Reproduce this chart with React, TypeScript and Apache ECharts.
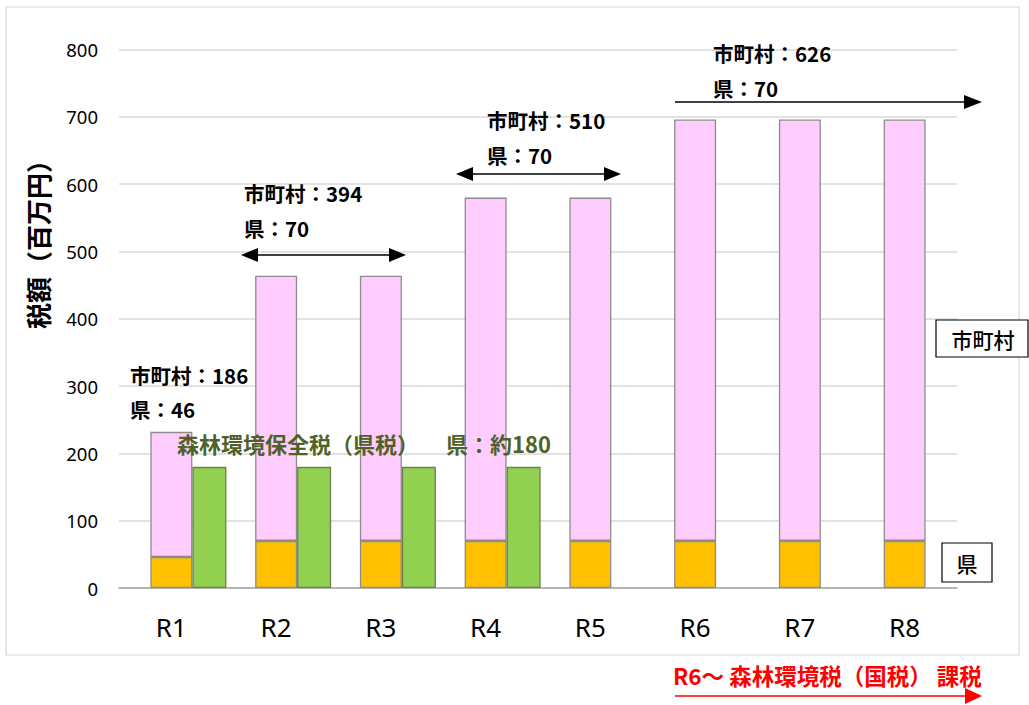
import React, { useEffect, useRef } from "react";
import * as echarts from "echarts";

const categories = ["R1", "R2", "R3", "R4", "R5", "R6", "R7", "R8"];
const prefValues = [46, 70, 70, 70, 70, 70, 70, 70];
const muniValues = [186, 394, 394, 510, 510, 626, 626, 626];
const forestPrefTax = [180, 180, 180, 180, null, null, null, null];
const yTicks = { min: 0, max: 800, interval: 100 };

const JP = "'Noto Sans CJK JP', 'Noto Sans', sans-serif";

function arrowHead(tipX: number, y: number, dir: number, len: number, half: number, color: string) {
  return {
    type: "polygon",
    z: 100,
    shape: { points: [[tipX, y], [tipX - dir * len, y - half], [tipX - dir * len, y + half]] },
    style: { fill: color },
    silent: true,
  };
}

function hLine(x1: number, x2: number, y: number, color: string, w: number) {
  return {
    type: "line",
    z: 100,
    shape: { x1, y1: y, x2, y2: y },
    style: { stroke: color, lineWidth: w },
    silent: true,
  };
}

function label(x: number, y: number, text: string, size: number, color = "#000", weight: any = "bold") {
  return {
    type: "text",
    z: 100,
    x,
    y,
    style: { text, fontSize: size, fontWeight: weight, fill: color, fontFamily: JP, textVerticalAlign: "middle", textAlign: "left" },
    silent: true,
  };
}

export default function App() {
  const ref = useRef<HTMLDivElement>(null);
  useEffect(() => {
    const chart = echarts.init(ref.current!, null, { renderer: "svg" });
    const border = "#8c8c8c";
    chart.setOption({
      animation: false,
      grid: { left: 119, right: 72, top: 49.5, bottom: 117, containLabel: false },
      xAxis: {
        type: "category",
        data: categories,
        axisLine: { lineStyle: { color: "#a6a6a6", width: 1.5 } },
        axisTick: { show: false },
        axisLabel: { fontSize: 26, color: "#000", margin: 26, fontFamily: "'Noto Sans', sans-serif" },
      },
      yAxis: {
        type: "value",
        min: yTicks.min,
        max: yTicks.max,
        interval: yTicks.interval,
        axisLine: { show: false },
        axisTick: { show: false },
        splitLine: { lineStyle: { color: "#d9d9d9", width: 1.5 } },
        axisLabel: { fontSize: 18.5, color: "#000", margin: 21, fontFamily: "'Noto Sans', sans-serif" },
      },
      series: [
        {
          name: "spacer",
          type: "bar",
          data: categories.map(() => null),
          barWidth: 34,
          barGap: 0,
          silent: true,
          itemStyle: { opacity: 0 },
        },
        {
          name: "県",
          type: "bar",
          stack: "total",
          data: prefValues,
          barWidth: 42,
          barGap: 0,
          itemStyle: { color: "#FFC000", borderColor: border, borderWidth: 1.3 },
        },
        {
          name: "市町村",
          type: "bar",
          stack: "total",
          data: muniValues,
          barWidth: 42,
          barGap: 0,
          itemStyle: { color: "#FFCCFF", borderColor: border, borderWidth: 1.3 },
        },
        {
          name: "森林環境保全税（県税）",
          type: "bar",
          data: forestPrefTax,
          barWidth: 34,
          barGap: 0,
          itemStyle: { color: "#92D050", borderColor: "#6a7f55", borderWidth: 1.3 },
        },
      ],
      graphic: [
        {
          type: "rect",
          shape: { x: 6, y: 7, width: 1013, height: 648 },
          style: { fill: "none", stroke: "#d9d9d9", lineWidth: 1.2 },
          silent: true,
          z: -10,
        },
        {
          type: "text",
          z: 100,
          x: 37,
          y: 238,
          rotation: Math.PI / 2,
          style: { text: "税額（百万円）", fontSize: 26, fontWeight: "bold", fill: "#000", fontFamily: JP, textAlign: "center", textVerticalAlign: "middle" },
          silent: true,
        },
        label(130, 375, "市町村：186", 20.5),
        label(130, 409, "県：46", 20.5),
        label(177, 443, "森林環境保全税（県税）", 22, "#4F6228"),
        label(446, 443, "県：約180", 22, "#4F6228"),
        label(244, 193, "市町村：394", 20.5),
        label(244, 228, "県：70", 20.5),
        hLine(250, 396, 255, "#000", 1.6),
        arrowHead(241, 255, -1, 17, 7, "#000"),
        arrowHead(406, 255, 1, 17, 7, "#000"),
        label(487, 120, "市町村：510", 20.5),
        label(487, 155, "県：70", 20.5),
        hLine(465, 612, 174, "#000", 1.6),
        arrowHead(456, 174, -1, 17, 7, "#000"),
        arrowHead(621, 174, 1, 17, 7, "#000"),
        label(713, 53, "市町村：626", 20.5),
        label(713, 88, "県：70", 20.5),
        hLine(675, 970, 102, "#000", 1.6),
        arrowHead(982, 102, 1, 18, 7, "#000"),
        {
          type: "rect",
          z: 100,
          shape: { x: 936, y: 320, width: 92, height: 37 },
          style: { fill: "#fff", stroke: "#000", lineWidth: 1.2 },
          silent: true,
        },
        {
          type: "text",
          z: 101,
          x: 983,
          y: 339,
          style: { text: "市町村", fontSize: 21, fill: "#000", fontFamily: JP, fontWeight: 500, textAlign: "center", textVerticalAlign: "middle" },
          silent: true,
        },
        {
          type: "rect",
          z: 100,
          shape: { x: 942, y: 543, width: 50, height: 39 },
          style: { fill: "#fff", stroke: "#000", lineWidth: 1.2 },
          silent: true,
        },
        {
          type: "text",
          z: 101,
          x: 967,
          y: 563,
          style: { text: "県", fontSize: 21, fill: "#000", fontFamily: JP, fontWeight: 500, textAlign: "center", textVerticalAlign: "middle" },
          silent: true,
        },
        label(673, 675, "R6～ 森林環境税（国税） 課税", 22.5, "#FF0000"),
        hLine(675, 968, 696, "#FF0000", 1.6),
        arrowHead(982, 696, 1, 17, 8, "#FF0000"),
      ],
    });
    return () => chart.dispose();
  }, []);
  return <div ref={ref} style={{ position: "absolute", left: 0, top: 0, width: 1029, height: 705 }} />;
}
